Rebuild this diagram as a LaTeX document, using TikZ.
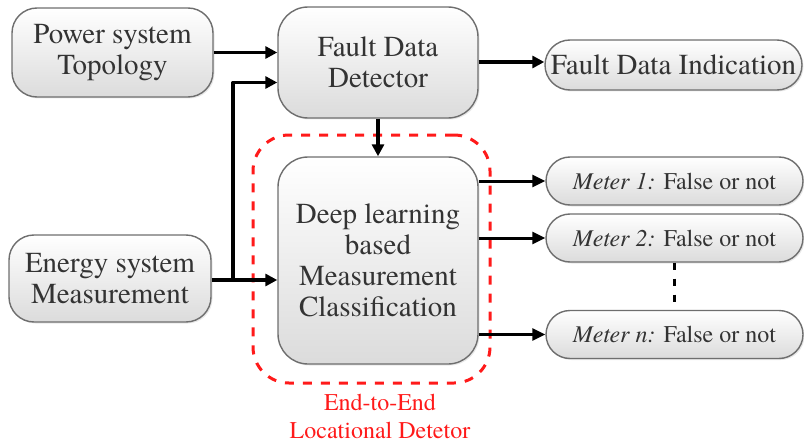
\documentclass[tikz,border=0pt]{standalone}
\usepackage{fontspec}
\setmainfont{texgyretermes}[Extension=.otf,UprightFont=*-regular,ItalicFont=*-italic,BoldFont=*-bold]
\usetikzlibrary{arrows.meta,shadows}
\definecolor{txtgray}{HTML}{333333}
\definecolor{edgegray}{HTML}{6E6E6E}
\definecolor{e2ered}{HTML}{FF1A1A}
\tikzset{
  blockbox/.style={draw=edgegray,line width=1.4pt,rounded corners=#1,top color=white,bottom color=black!14,
    drop shadow={opacity=0.18,shadow xshift=1.5pt,shadow yshift=-1.5pt},
    text=txtgray,align=center,inner sep=0pt,font=\fontsize{29}{31}\selectfont},
  blockbox/.default=28pt,
  meterbox/.style={blockbox=24pt,font=\fontsize{24}{28}\selectfont,minimum width=257pt,minimum height=48pt},
  flow/.style={line width=3.8pt,-{Triangle[length=12pt,width=12pt]}},
  meterflow/.style={line width=3pt,-{Triangle[length=13pt,width=12pt]}},
}
\begin{document}
\begin{tikzpicture}[x=1pt,y=-1pt,line join=round]
\useasboundingbox (0,0) rectangle (804,444);
% input blocks
\node[blockbox=25pt,minimum width=201pt,minimum height=89pt] (pst) at (112.5,52.5) {Power system\\Topology};
\node[blockbox=25pt,minimum width=202pt,minimum height=87pt] (esm) at (110,278.5) {Energy system\\Measurement};
% detector and classifier
\node[blockbox=30pt,minimum width=200pt,minimum height=111pt] (fdd) at (378,62.5) {Fault Data\\Detector};
\node[blockbox=30pt,minimum width=200pt,minimum height=207pt] (dlm) at (378,260.5) {Deep learning\\based\\Measurement\\Classification};
\node[blockbox=25pt,minimum width=257pt,minimum height=50pt] (fdi) at (673.5,65) {Fault Data Indication};
% end-to-end frame
\node[draw=e2ered,line width=3pt,dash pattern=on 9pt off 9pt,rounded corners=36pt,
  minimum width=237pt,minimum height=248pt,inner sep=0pt] (e2e) at (371.5,259) {};
\node[text=e2ered,align=center,font=\fontsize{24}{28}\selectfont] (e2elbl) at (380,416) {End-to-End\\Locational Detetor};
% meter outputs
\node[meterbox] (m1) at (674.5,181) {\textit{Meter 1:} False or not};
\node[meterbox] (m2) at (674.5,238) {\textit{Meter 2:} False or not};
\node[meterbox] (mn) at (674.5,334.5) {\textit{Meter n:} False or not};
% connectors
\coordinate (jn) at (233,280);
\draw[flow] (pst.east) -- (pst.east -| fdd.west);
\draw[flow] (esm.east |- jn) -- (jn -| dlm.west);
\draw[flow] (jn) |- ([yshift=-20pt]fdd.west);
\draw[flow] (fdd.south) -- (dlm.north);
\draw[flow] (fdd.east |- 0,62) -- (fdi.west |- 0,62);
\foreach \m in {m1,m2,mn}
  \draw[meterflow] (\m.west -| dlm.east) -- (\m.west);
\draw[line width=2.5pt,dash pattern=on 7pt off 9pt] (m2.south) -- (mn.north);
\end{tikzpicture}
\end{document}
